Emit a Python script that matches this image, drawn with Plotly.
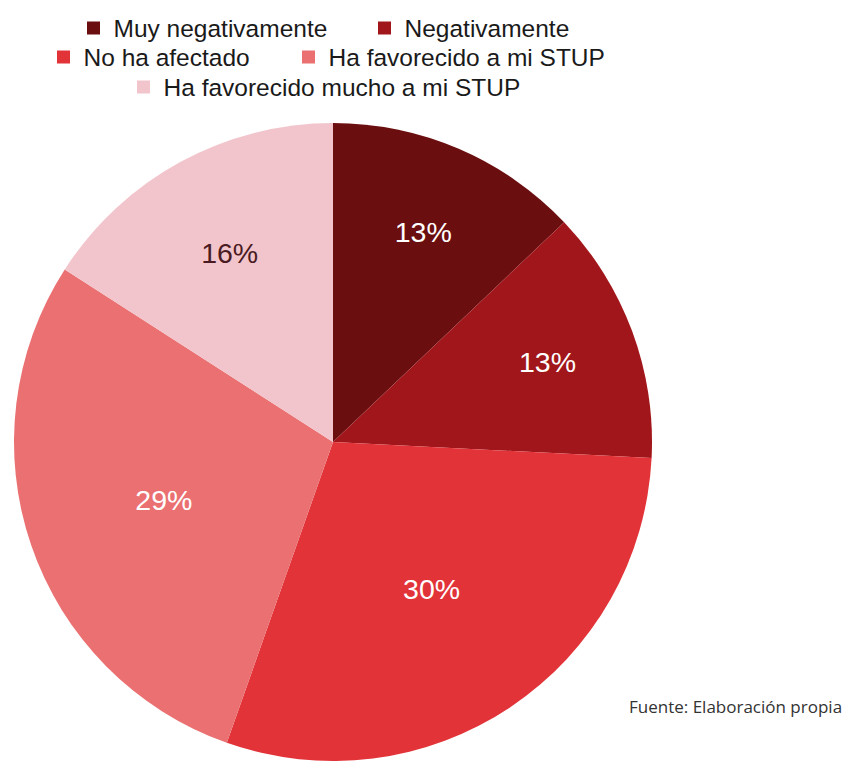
import plotly.graph_objects as go

categories = ["Muy negativamente", "Negativamente", "No ha afectado",
              "Ha favorecido a mi STUP", "Ha favorecido mucho a mi STUP"]
values = [12.9, 12.9, 29.6, 28.7, 15.9]
colors = ["#6B0E10", "#A1161B", "#E23338", "#EA7071", "#F2C5CC"]
label_colors = ["white", "white", "white", "white", "#4A1A22"]
source_text = "Fuente: Elaboración propia"

W, H = 844, 761

fig = go.Figure()
fig.add_trace(go.Pie(
    labels=categories,
    values=values,
    sort=False,
    direction="clockwise",
    rotation=0,
    marker=dict(colors=colors, line=dict(width=0)),
    texttemplate="%{percent:.0%}",
    textposition="inside",
    insidetextorientation="horizontal",
    textfont=dict(family="Liberation Sans", size=28.5, color=label_colors),
    domain=dict(x=[12 / W, 654 / W], y=[0, 1 - 123 / H]),
    hoverinfo="label+percent",
    showlegend=False,
))

# legend rows (entries only; no plotted points)
legend_rows = ["legend", "legend", "legend2", "legend2", "legend3"]
entry_widths = [246, None, 200, None, None]
for name, col, lg, ew in zip(categories, colors, legend_rows, entry_widths):
    kw = dict(legendwidth=ew) if ew else {}
    fig.add_trace(go.Scatter(
        x=[None], y=[None], mode="markers", name=name,
        marker=dict(symbol="square", size=13, color=col),
        legend=lg, showlegend=True, hoverinfo="skip", **kw))

legend_font = dict(family="Liberation Sans", size=24.5, color="#1a1a1a")


def leg(xpix, ycen):
    return dict(orientation="h", x=xpix / W, xanchor="left",
                y=1 - ycen / H, yanchor="middle", font=legend_font,
                itemsizing="trace", bgcolor="rgba(0,0,0,0)",
                itemclick=False, itemdoubleclick=False)


fig.update_layout(
    width=W, height=H,
    margin=dict(l=0, r=0, t=0, b=0),
    paper_bgcolor="white",
    plot_bgcolor="white",
    xaxis=dict(visible=False),
    yaxis=dict(visible=False),
    legend=leg(87 - 13.5, 28),
    legend2=leg(57 - 13.5, 57),
    legend3=leg(137 - 13.5, 87),
    annotations=[dict(
        text=source_text,
        xref="paper", yref="paper",
        x=627 / W, y=1 - 706 / H,
        xanchor="left", yanchor="middle",
        showarrow=False,
        font=dict(family="Open Sans", size=17, color="#333333"),
    )],
)

fig.write_html("out.html", config={"displayModeBar": False},
               post_script="document.body.style.margin='0';")
